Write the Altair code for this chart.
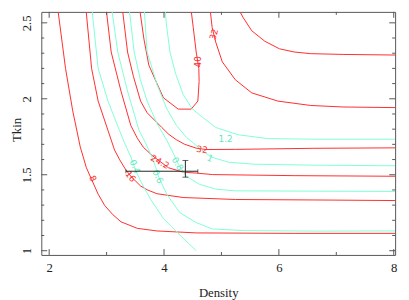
import altair as alt
import pandas as pd

# ---------------- axes ----------------
x_domain = [1.8635, 8.024]
y_domain = [0.972, 2.572]
x_major = [2, 4, 6, 8]
x_minor = [3, 5, 7]
y_major = [1.0, 1.5, 2.0, 2.5]
y_minor = [1.1, 1.2, 1.3, 1.4, 1.6, 1.7, 1.8, 1.9, 2.1, 2.2, 2.3, 2.4]

# ---------------- red contours ----------------
r8_x = [2.137, 2.285, 2.410, 2.541, 2.648, 2.739, 2.853, 2.968, 3.109, 3.251, 3.536, 3.877, 4.560, 6.266, 8.024]
r8_y = [2.630, 2.200, 1.921, 1.684, 1.546, 1.469, 1.372, 1.297, 1.237, 1.190, 1.147, 1.130, 1.117, 1.114, 1.114]

r16_x = [2.631, 2.739, 2.853, 3.024, 3.138, 3.229, 3.331, 3.433, 3.592, 3.706, 3.877, 4.333, 5.242, 6.608, 8.024]
r16_y = [2.630, 2.200, 1.985, 1.792, 1.663, 1.598, 1.534, 1.485, 1.426, 1.401, 1.375, 1.350, 1.337, 1.334, 1.330]

r24_x = [2.981, 3.080, 3.251, 3.422, 3.536, 3.638, 3.792, 3.928, 4.077, 4.333, 4.560, 4.845, 6.266, 8.024]
r24_y = [2.630, 2.308, 2.050, 1.824, 1.740, 1.682, 1.627, 1.588, 1.546, 1.517, 1.511, 1.501, 1.494, 1.490]

r32a_x = [3.263, 3.365, 3.468, 3.592, 3.706, 3.843, 3.962, 4.082, 4.218, 4.355, 4.560, 4.730, 5.242, 6.608, 8.024]
r32a_y = [2.630, 2.308, 2.146, 1.985, 1.908, 1.856, 1.811, 1.766, 1.730, 1.701, 1.675, 1.666, 1.667, 1.674, 1.677]

r40_x = [3.561, 3.650, 3.735, 3.848, 3.991, 4.247, 4.474, 4.589, 4.611, 4.606, 4.560, 4.509, 4.457]
r40_y = [2.630, 2.394, 2.222, 2.125, 2.006, 1.932, 1.932, 1.985, 2.114, 2.200, 2.308, 2.469, 2.630]

r32b_x = [4.790, 4.838, 4.901, 5.015, 5.242, 5.527, 5.981, 6.551, 7.119, 8.024]
r32b_y = [2.630, 2.469, 2.372, 2.243, 2.125, 2.039, 1.985, 1.956, 1.946, 1.942]

r24b_x = [5.242, 5.379, 5.527, 5.754, 6.010, 6.266, 6.551, 7.119, 8.024]
r24b_y = [2.630, 2.534, 2.448, 2.379, 2.329, 2.308, 2.297, 2.292, 2.288]

# ---------------- cyan contours ----------------
c04_x = [2.734, 2.853, 3.024, 3.224, 3.314, 3.422, 3.502, 3.592, 3.763, 3.991, 4.333, 4.560]
c04_y = [2.630, 2.200, 1.985, 1.792, 1.708, 1.617, 1.534, 1.458, 1.340, 1.211, 1.082, 1.000]

c06_x = [3.075, 3.195, 3.365, 3.565, 3.672, 3.775, 3.852, 3.911, 4.048, 4.275, 4.560, 4.845, 5.413, 6.608, 8.024]
c06_y = [2.630, 2.308, 2.050, 1.792, 1.714, 1.630, 1.553, 1.482, 1.372, 1.250, 1.185, 1.143, 1.132, 1.129, 1.130]

c08_x = [3.382, 3.480, 3.587, 3.706, 3.877, 4.048, 4.167, 4.253, 4.389, 4.616, 4.901, 5.242, 6.608, 8.024]
c08_y = [2.630, 2.308, 2.127, 1.985, 1.837, 1.727, 1.637, 1.566, 1.490, 1.437, 1.405, 1.394, 1.392, 1.390]

c10_x = [3.647, 3.706, 3.877, 4.048, 4.218, 4.389, 4.616, 4.816, 5.128, 5.584, 6.608, 8.024]
c10_y = [2.630, 2.308, 2.095, 1.934, 1.824, 1.746, 1.675, 1.617, 1.582, 1.569, 1.563, 1.559]

c12_x = [4.005, 4.048, 4.104, 4.201, 4.333, 4.491, 4.674, 4.901, 5.294, 5.805, 6.608, 8.024]
c12_y = [2.630, 2.469, 2.308, 2.166, 2.028, 1.934, 1.877, 1.811, 1.763, 1.738, 1.734, 1.734]

# ---------------- contour labels ----------------
red_lab_text = ["8", "16", "24.2", "32", "40", "32"]
red_lab_x = [2.759, 3.416, 3.928, 4.662, 4.585, 4.867]
red_lab_y = [1.475, 1.488, 1.585, 1.666, 2.243, 2.424]
red_lab_angle = [65, 52, 28, 8, 270, 285]

cyan_lab_text = ["0.4", "0.6", "0.8", "1", "1.2"]
cyan_lab_x = [3.493, 3.894, 4.235, 4.799, 5.072]
cyan_lab_y = [1.553, 1.488, 1.572, 1.608, 1.734]
cyan_lab_angle = [68, 65, 60, 25, 0]

# ---------------- best-fit point with error bars ----------------
pt_x = [4.372]
pt_y = [1.523]
pt_xlo = [3.336]
pt_xhi = [4.589]
pt_ylo = [1.484]
pt_yhi = [1.594]

RED = "#ff2b2b"
CYAN = "#7fffd4"
FRAME = "#555555"
SERIF = "Liberation Serif"
LABF = "DejaVu Sans"
TXT = "#222222"


def curves(named):
    rows = []
    for name, xs_, ys_ in named:
        for i, (a, b) in enumerate(zip(xs_, ys_)):
            rows.append({"curve": name, "i": i, "x": a, "y": b})
    return pd.DataFrame(rows)


red_df = curves([("r8", r8_x, r8_y), ("r16", r16_x, r16_y), ("r24", r24_x, r24_y),
                 ("r32a", r32a_x, r32a_y), ("r40", r40_x, r40_y),
                 ("r32b", r32b_x, r32b_y), ("r24b", r24b_x, r24b_y)])
cyan_df = curves([("c04", c04_x, c04_y), ("c06", c06_x, c06_y), ("c08", c08_x, c08_y),
                  ("c10", c10_x, c10_y), ("c12", c12_x, c12_y)])

xs = alt.Scale(domain=x_domain, nice=False, zero=False)
ys = alt.Scale(domain=y_domain, nice=False, zero=False)

W, H = 361, 248

XAX = alt.Axis(values=x_major, ticks=False, domain=False, grid=False,
               title="Density", labelExpr="'' + datum.value",
               labelFont=SERIF, labelFontSize=13, labelColor=TXT,
               titleFont=SERIF, titleFontSize=13, titleFontWeight="normal", titleColor=TXT,
               labelPadding=7, titlePadding=12)
YAX = alt.Axis(values=y_major, ticks=False, domain=False, grid=False,
               title="Tkin", labelExpr="'' + datum.value",
               labelFont=SERIF, labelFontSize=13, labelColor=TXT,
               titleFont=SERIF, titleFontSize=13, titleFontWeight="normal", titleColor=TXT,
               labelAngle=270, labelAlign="center", labelBaseline="bottom",
               labelPadding=8,
               titleAngle=270, titleAlign="center", titleBaseline="bottom",
               titleX=-18, titleY=120)


def X(f):
    return alt.X(f, scale=xs, axis=XAX)


def Y(f):
    return alt.Y(f, scale=ys, axis=YAX)


red_lines = alt.Chart(red_df).mark_line(color=RED, strokeWidth=1, clip=True).encode(
    x=X("x:Q"), y=Y("y:Q"), detail="curve:N", order="i:Q")

cyan_lines = alt.Chart(cyan_df).mark_line(color=CYAN, strokeWidth=1, clip=True).encode(
    x=X("x:Q"), y=Y("y:Q"), detail="curve:N", order="i:Q")

red_labels = alt.Chart(pd.DataFrame({"t": red_lab_text, "x": red_lab_x, "y": red_lab_y, "a": red_lab_angle})).mark_text(
    color=RED, font=LABF, fontSize=9, align="center", baseline="middle"
).encode(x=X("x:Q"), y=Y("y:Q"), text="t:N", angle=alt.Angle("a:Q", scale=None))

cyan_labels = alt.Chart(pd.DataFrame({"t": cyan_lab_text, "x": cyan_lab_x, "y": cyan_lab_y, "a": cyan_lab_angle})).mark_text(
    color="#5fe8c0", font=LABF, fontSize=9, align="center", baseline="middle"
).encode(x=X("x:Q"), y=Y("y:Q"), text="t:N", angle=alt.Angle("a:Q", scale=None))

pt_df = pd.DataFrame({"x": pt_x, "y": pt_y, "xlo": pt_xlo, "xhi": pt_xhi, "ylo": pt_ylo, "yhi": pt_yhi})
ERR = "#222222"
hbar = alt.Chart(pt_df).mark_rule(color=ERR, strokeWidth=1).encode(
    x=X("xlo:Q"), x2="xhi:Q", y=Y("y:Q"))
vbar = alt.Chart(pt_df).mark_rule(color=ERR, strokeWidth=1).encode(
    x=X("x:Q"), y=Y("ylo:Q"), y2="yhi:Q")
hcap_l = alt.Chart(pt_df).mark_tick(color=ERR, orient="vertical", size=4, thickness=1).encode(
    x=X("xlo:Q"), y=Y("y:Q"))
hcap_r = alt.Chart(pt_df).mark_tick(color=ERR, orient="vertical", size=4, thickness=1).encode(
    x=X("xhi:Q"), y=Y("y:Q"))
vcap_lo = alt.Chart(pt_df).mark_tick(color=ERR, orient="horizontal", size=6, thickness=1).encode(
    x=X("x:Q"), y=Y("ylo:Q"))
vcap_hi = alt.Chart(pt_df).mark_tick(color=ERR, orient="horizontal", size=6, thickness=1).encode(
    x=X("x:Q"), y=Y("yhi:Q"))


# ---------------- inward ticks on all four sides ----------------
def xticks(vals, length):
    d = pd.DataFrame({"v": vals})
    bot = alt.Chart(d).mark_rule(color=FRAME, strokeWidth=1).encode(
        x=X("v:Q"), y=alt.value(H), y2=alt.value(H - length))
    top = alt.Chart(d).mark_rule(color=FRAME, strokeWidth=1).encode(
        x=X("v:Q"), y=alt.value(0), y2=alt.value(length))
    return [bot, top]


def yticks(vals, length):
    d = pd.DataFrame({"v": vals})
    left = alt.Chart(d).mark_rule(color=FRAME, strokeWidth=1).encode(
        y=Y("v:Q"), x=alt.value(0), x2=alt.value(length))
    right = alt.Chart(d).mark_rule(color=FRAME, strokeWidth=1).encode(
        y=Y("v:Q"), x=alt.value(W), x2=alt.value(W - length))
    return [left, right]


tick_layers = xticks(x_major, 6) + xticks(x_minor, 3) + yticks(y_major, 6) + yticks(y_minor, 3)

chart = alt.layer(
    red_lines, cyan_lines, red_labels, cyan_labels,
    hbar, vbar, hcap_l, hcap_r, vcap_lo, vcap_hi,
    *tick_layers,
).properties(
    width=W, height=H,
    autosize=alt.AutoSizeParams(type="none"),
    padding={"left": 34, "top": 1, "right": 6, "bottom": 43},
    background="white",
).configure_view(
    stroke=FRAME, strokeWidth=1,
)

chart.save("out.html", embed_options={"renderer": "svg", "actions": False})
